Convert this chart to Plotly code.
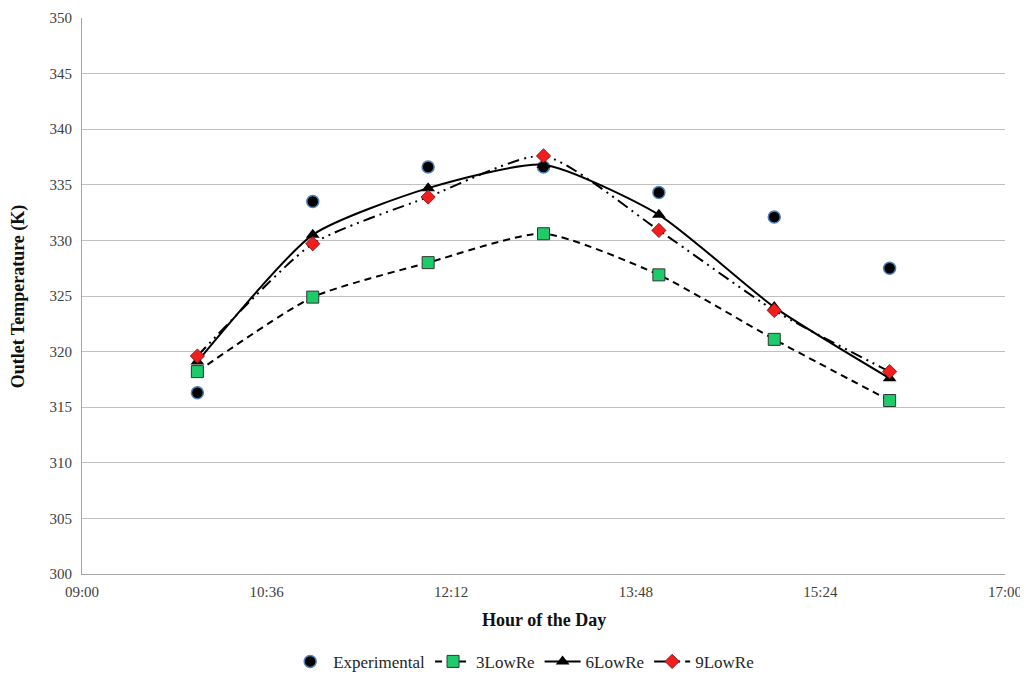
import plotly.graph_objects as go

hours = ["2020-01-01 10:00", "2020-01-01 11:00", "2020-01-01 12:00", "2020-01-01 13:00",
         "2020-01-01 14:00", "2020-01-01 15:00", "2020-01-01 16:00"]
experimental = [316.3, 333.5, 336.6, 336.6, 334.3, 332.1, 327.5]
low3 = [318.2, 324.9, 328.0, 330.6, 326.9, 321.1, 315.6]
low6 = [319.1, 330.5, 334.7, 336.8, 332.3, 324.0, 317.6]
low9 = [319.6, 329.7, 333.9, 337.6, 330.9, 323.7, 318.2]

font_family = "Liberation Serif"

fig = go.Figure()
fig.add_trace(go.Scatter(
    x=hours, y=experimental, name="Experimental", mode="markers",
    marker=dict(symbol="circle", size=12, color="black", line=dict(color="#4F81BD", width=1.5))))
fig.add_trace(go.Scatter(
    x=hours, y=low3, name="3LowRe", mode="lines+markers",
    line=dict(color="black", width=2, dash="7px,5px", shape="spline", smoothing=0.6),
    marker=dict(symbol="square", size=12, color="#1ECB6A", line=dict(color="#333333", width=1))))
fig.add_trace(go.Scatter(
    x=hours, y=low6, name="6LowRe", mode="lines+markers",
    line=dict(color="black", width=2, shape="spline", smoothing=0.6),
    marker=dict(symbol="triangle-up", size=12, color="black")))
fig.add_trace(go.Scatter(
    x=hours, y=low9, name="9LowRe", mode="lines+markers",
    line=dict(color="black", width=2, dash="12px,5px,2px,5px,2px,5px", shape="spline", smoothing=0.6),
    marker=dict(symbol="diamond", size=11, color="#F01E1E", line=dict(color="#7a1010", width=0.8))))

fig.update_layout(
    width=1020, height=667,
    paper_bgcolor="white", plot_bgcolor="white",
    margin=dict(l=74, r=23, t=10, b=101, autoexpand=False),
    font=dict(family=font_family, size=15, color="#404040"),
    showlegend=True,
    legend=dict(orientation="h", x=0.478, xanchor="center", y=-0.158, yanchor="middle",
                itemwidth=36, font=dict(family=font_family, size=17, color="#262626")),
    annotations=[
        dict(text="<b>Hour of the Day</b>", xref="paper", yref="paper", x=0.5, y=-0.083,
             xanchor="center", yanchor="middle", showarrow=False,
             font=dict(family=font_family, size=18, color="#111111")),
        dict(text="<b>Outlet Temperature (K)</b>", xref="paper", yref="paper", x=-0.069, y=0.5,
             xanchor="center", yanchor="middle", showarrow=False, textangle=-90,
             font=dict(family=font_family, size=18, color="#111111")),
    ],
)
fig.update_xaxes(
    type="date", range=["2020-01-01 09:00", "2020-01-01 17:00"],
    tick0="2020-01-01 09:00", dtick=96 * 60 * 1000, tickformat="%H:%M",
    showgrid=False, showline=True, linecolor="#a6a6a6", linewidth=1, automargin=False,
    ticklabeloverflow="allow",
    ticks="", ticklabelstandoff=4, tickfont=dict(family=font_family, size=15, color="#404040"),
)
fig.update_yaxes(
    range=[300, 350], dtick=5, automargin=False,
    showgrid=True, gridcolor="#c0c0c0", gridwidth=1,
    showline=True, linecolor="#a6a6a6", linewidth=1, zeroline=False,
    ticks="", ticklabelstandoff=6, tickfont=dict(family=font_family, size=15, color="#404040"),
)

fig.write_html("out.html")
